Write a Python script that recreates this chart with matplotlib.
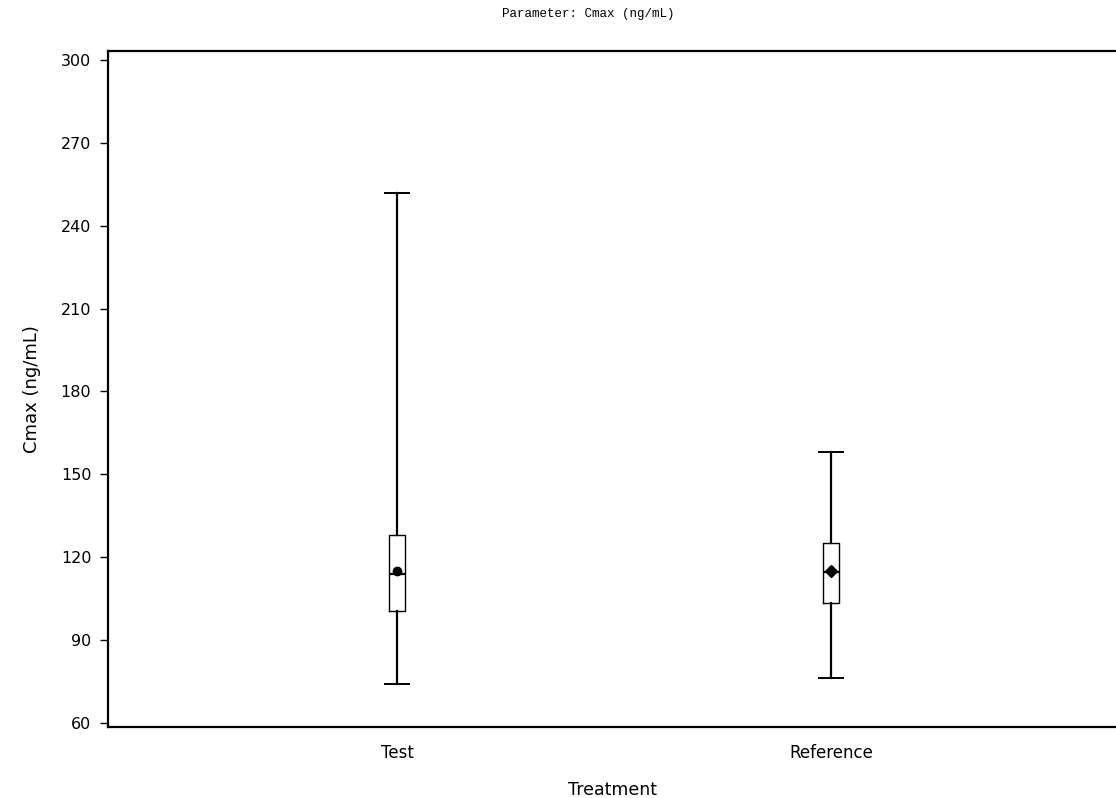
import matplotlib
matplotlib.use("Agg")
import matplotlib.pyplot as plt

# summary statistics per treatment
treatments = ["Test", "Reference"]
whisker_lo = [74.0, 76.0]
q1 = [100.5, 103.5]
medians = [114.0, 114.5]
q3 = [128.0, 125.0]
whisker_hi = [252.0, 158.0]
means = [115.0, 115.0]
yticks = [60, 90, 120, 150, 180, 210, 240, 270, 300]

stats = []
for i, name in enumerate(treatments):
    stats.append(dict(label=name, whislo=whisker_lo[i], q1=q1[i], med=medians[i],
                      q3=q3[i], whishi=whisker_hi[i], mean=means[i], fliers=[]))

fig = plt.figure(figsize=(11.16, 7.98), dpi=100)
ax = fig.add_axes([0.0968, 0.089, 1.0 - 0.0968, 0.847])

ax.bxp(stats, positions=[1, 2], widths=0.035, showmeans=False, patch_artist=False,
       boxprops=dict(color="black", linewidth=1.0),
       whiskerprops=dict(color="black", linewidth=1.6),
       capprops=dict(color="black", linewidth=1.4),
       medianprops=dict(color="black", linewidth=1.6),
       capwidths=0.055)

# mean symbols
for pos, m, mk in zip([1, 2], means, ["o", "D"]):
    ax.plot(pos, m, marker=mk, color="black", markersize=6, zorder=5)

ax.set_xlim(0.334, 2.657)
ax.set_ylim(58.4, 303.3)
ax.set_yticks(yticks)
ax.set_xticks([1, 2])
ax.set_xticklabels(treatments)
ax.tick_params(axis="x", length=0, labelsize=12, pad=12)
ax.tick_params(axis="y", length=6, width=1.0, labelsize=11.5, pad=6, direction="out")

for side in ["left", "bottom", "top"]:
    ax.spines[side].set_linewidth(1.6)
ax.spines["right"].set_visible(False)

ax.set_xlabel("Treatment", fontsize=12.5, labelpad=14)
ax.set_ylabel("Cmax (ng/mL)", fontsize=13, labelpad=14)

fig.text(0.527, 0.983, "Parameter: Cmax (ng/mL)", family="Liberation Mono",
         fontsize=9, ha="center", va="center")

fig.savefig("out.png", dpi=100)
